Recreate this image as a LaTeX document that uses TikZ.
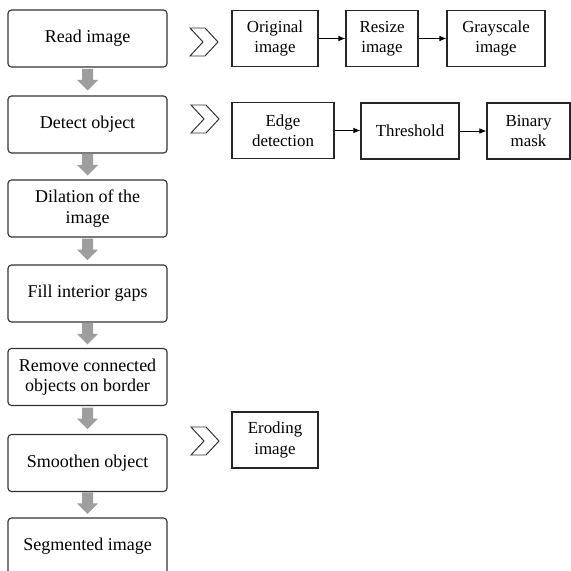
\documentclass[tikz,border=0pt]{standalone}
\usepackage{fontspec}
\setmainfont{Liberation Serif}
\usetikzlibrary{arrows.meta,positioning,calc}

\begin{document}
\begin{tikzpicture}[x=0.025cm, y=-0.025cm,
  stage/.style={draw=black!80, line width=0.8pt, rounded corners=2.5pt, minimum width=3.975cm,
                minimum height=1.425cm, inner sep=1pt, align=center, font=\fontsize{12.8}{14.5}\selectfont},
  sub/.style={draw=black!85, line width=0.8pt, minimum height=1.4cm, inner sep=1pt,
              align=center, font=\fontsize{12}{14.5}\selectfont},
  lnk/.style={-{Latex[length=5pt,width=4pt]}, line width=0.6pt},
  flow/.style={fill=black!38, draw=none},
  chev/.style={draw=black!80, line width=0.7pt, line join=miter},
  chevron/.pic={\draw[chev] (-14,-14) -- (1,-14) -- (14,0) -- (1,14) -- (-14,14) -- (-1,0) -- cycle;},
]
\useasboundingbox (0,0) rectangle (571,571);
\clip (0,0) rectangle (571,571);

% main steps
\node[stage] (read)    at (87.5,38.5)  {Read image};
\node[stage] (detect)  at (87.5,124.5) {Detect object};
\node[stage] (dilate)  at (87.5,208.5) {Dilation of the\\image};
\node[stage] (fill)    at (87.5,293.5) {Fill interior gaps};
\node[stage] (remove)  at (87.5,377)   {Remove connected\\objects on border};
\node[stage] (smooth)  at (87.5,463)   {Smoothen object};
\node[stage] (segment) at (87.5,546.5) {Segmented image};

\foreach \a/\b in {read/detect, detect/dilate, dilate/fill, fill/remove, remove/smooth, smooth/segment}
  \fill[flow] ($(\a.south)!0.5!(\b.north)$) ++(-5.5,-12.5) -- ++(11,0) -- ++(0,11) -- ++(5,0)
    -- ++(-10.5,10.5) -- ++(-10.5,-10.5) -- ++(5,0) -- cycle;

% sub steps
\node[sub, minimum width=2.15cm]  (orig)   at (275,38.5)  {Original\\image};
\node[sub, minimum width=1.8cm]   (resize) at (382,38.5)  {Resize\\image};
\node[sub, minimum width=2.45cm]  (gray)   at (496,38.5)  {Grayscale\\image};
\node[sub, minimum width=2.55cm]  (edge)   at (283,130.5) {Edge\\detection};
\node[sub, minimum width=2.45cm]  (thresh) at (410,131)   {Threshold};
\node[sub, minimum width=2.075cm] (binary) at (528.5,131) {Binary\\mask};
\node[sub, minimum width=2.15cm]  (erode)  at (275,440)   {Eroding\\image};

\draw[lnk] (orig) -- (resize);
\draw[lnk] (resize) -- (gray);
\draw[lnk] (edge.east) -- (edge.east -| thresh.west);
\draw[lnk] (thresh.east) -- (thresh.east -| binary.west);

\pic at (204,42) {chevron};
\pic at (205,119) {chevron};
\pic at (205,441) {chevron};
\end{tikzpicture}
\end{document}
